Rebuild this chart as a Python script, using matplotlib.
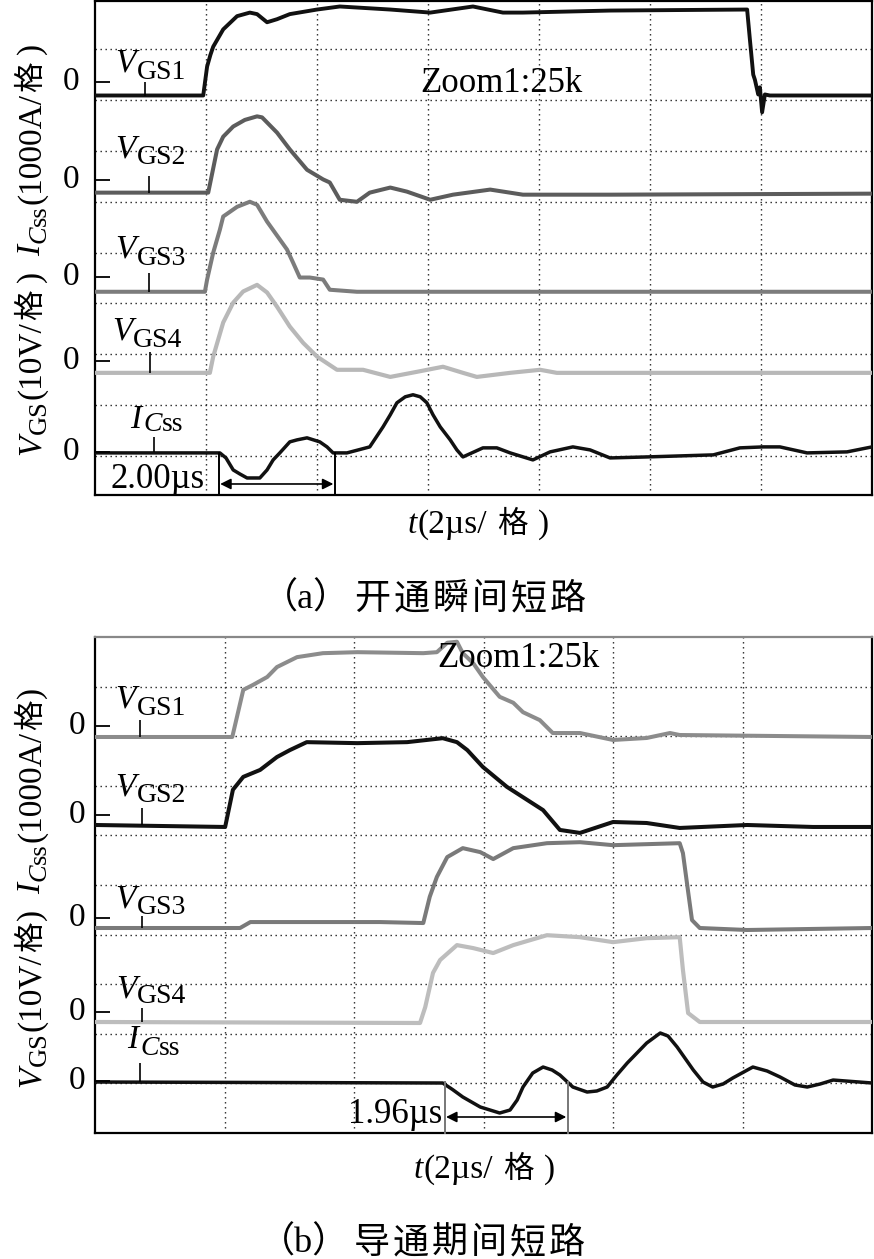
import matplotlib
matplotlib.use('Agg')
import matplotlib.pyplot as plt
from matplotlib.font_manager import FontProperties
from matplotlib.transforms import Affine2D
from matplotlib.lines import Line2D

W, H = 874, 1259
FAM = ['Liberation Serif', 'Noto Sans CJK SC']
plt.rcParams['font.family'] = FAM

# ---------------- data (time in µs, VGS in V, ICss in A) ----------------
# panel (a) turn-on short circuit
a_t_vgs1 = [0, 1.95, 2.02, 2.08, 2.13, 2.31, 2.56, 2.79, 2.92, 3.10, 3.28, 3.51, 4.00, 4.41, 5.32, 6.04,
            6.81, 7.35, 7.71, 9.28, 11.75, 11.80, 11.86, 11.89, 11.95, 11.98, 12.02, 12.07, 12.16, 14.0]
a_v_vgs1 = [0, 0, 5.7, 8.0, 9.6, 13.0, 15.6, 16.3, 16.0, 14.4, 15.0, 16.0, 16.9, 17.5, 16.9, 16.3,
            17.5, 16.3, 16.3, 16.7, 16.9, 11.0, 4.1, 3.1, 0.2, 1.6, -3.3, 0.2, 0, 0]
a_t_vgs2 = [0, 2.04, 2.20, 2.31, 2.49, 2.70, 2.92, 3.01, 3.28, 3.51, 3.82, 4.11, 4.23, 4.41, 4.72, 4.95,
            5.32, 5.62, 6.04, 6.45, 7.12, 7.71, 9.28, 14.0]
a_v_vgs2 = [0, 0, 8.5, 11.0, 13.0, 14.3, 15.0, 14.8, 11.8, 8.5, 4.5, 2.6, 2.0, -1.4, -1.8, 0,
            1.0, 0.2, -1.4, -0.4, 0.6, -0.4, -0.4, -0.2]
a_t_vgs3 = [0, 1.98, 2.02, 2.13, 2.25, 2.31, 2.56, 2.79, 2.92, 3.10, 3.46, 3.57, 3.69, 3.87, 4.11,
            4.23, 4.72, 14.0]
a_v_vgs3 = [0, 0, 2.4, 7.7, 12.2, 14.8, 16.7, 17.7, 17.1, 13.8, 8.3, 5.7, 2.8, 2.8, 2.4,
            0.4, 0, 0]
a_t_vgs4 = [0, 2.07, 2.13, 2.31, 2.49, 2.67, 2.92, 3.10, 3.28, 3.51, 3.75, 4.00, 4.36, 4.83, 5.32,
            5.80, 6.27, 6.63, 6.88, 7.48, 8.02, 8.32, 9.28, 14.0]
a_v_vgs4 = [0, 0, 3.2, 9.9, 13.8, 16.0, 17.3, 15.8, 13.0, 9.1, 5.9, 3.2, 0.6, 0.6, -0.8,
            0.2, 1.2, 0, -0.8, 0, 0.6, 0, 0, 0]
a_t_icss = [0, 2.25, 2.36, 2.49, 2.61, 2.74, 2.97, 3.10, 3.21, 3.33, 3.51, 3.64, 3.82, 4.05, 4.18,
            4.29, 4.54, 4.95, 5.19, 5.32, 5.44, 5.59, 5.73, 5.86, 5.98, 6.09, 6.22, 6.40, 6.52, 6.63,
            6.99, 7.24, 7.48, 7.89, 8.20, 8.61, 8.92, 9.28, 9.95, 11.14, 11.62, 12.04, 12.34, 12.83,
            13.55, 14.0]
a_i_icss = [0, 0, -99, -335, -414, -493, -493, -335, -138, 0, 217, 256, 296, 217, 118,
            0, 0, 118, 512, 749, 985, 1103, 1143, 1103, 985, 749, 512, 256, 59, -79,
            99, 99, 0, -138, 20, 118, 59, -99, -79, -39, 99, 118, 118, 0,
            20, 118]
a_meas = [2.23, 4.32]
a_meas_text = '2.00µs'

# panel (b) short circuit during conduction
b_t_vgs1 = [0, 2.12, 2.29, 2.44, 2.66, 2.81, 3.12, 3.52, 4.05, 5.07, 5.28, 5.44, 5.59, 5.68, 5.84,
            5.99, 6.25, 6.46, 6.61, 6.87, 7.07, 7.49, 8.00, 8.52, 8.88, 9.03, 12.0]
b_v_vgs1 = [0, 0, 9.5, 10.5, 12.1, 14.1, 16.1, 16.9, 17.1, 16.9, 17.1, 19.0, 19.2, 16.9, 14.9,
            12.1, 8.1, 6.9, 5.0, 3.4, 0.8, 0.8, -0.6, -0.2, 0.8, 0.4, 0]
b_t_vgs2 = [0, 2.01, 2.13, 2.29, 2.55, 2.81, 3.01, 3.27, 4.05, 4.82, 5.37, 5.59, 5.75, 5.99, 6.36,
            6.61, 6.92, 7.18, 7.49, 8.00, 8.52, 9.03, 10.07, 11.09, 12.0]
b_v_vgs2 = [0, -0.4, 7.1, 9.7, 11.1, 13.7, 15.1, 16.7, 16.5, 16.7, 17.5, 16.7, 15.1, 11.7, 7.7,
            5.6, 3.0, -1.0, -1.6, 0.6, 0.4, -0.6, 0, -0.4, -0.4]
b_t_vgs3 = [0, 2.24, 2.40, 4.40, 5.07, 5.17, 5.28, 5.44, 5.68, 5.95, 6.15, 6.46, 6.98, 7.49, 8.00,
            9.03, 9.08, 9.15, 9.22, 9.34, 10.07, 12.0]
b_v_vgs3 = [0, 0, 1.2, 1.2, 1.0, 6.3, 10.3, 14.3, 16.1, 15.3, 13.9, 16.1, 17.1, 17.3, 16.7,
            17.1, 15.1, 8.3, 1.6, 0, -0.4, 0]
b_t_vgs4 = [0, 5.02, 5.10, 5.22, 5.33, 5.59, 5.84, 6.15, 6.46, 6.98, 7.49, 8.00, 8.52, 9.03, 9.08,
            9.16, 9.34, 12.0]
b_v_vgs4 = [0, -0.2, 3.0, 9.9, 12.5, 15.5, 14.9, 13.9, 15.5, 17.5, 17.1, 16.1, 16.9, 17.1, 10.5,
            1.8, 0, 0]
b_t_icss = [0, 5.37, 5.52, 5.68, 5.95, 6.25, 6.41, 6.52, 6.61, 6.76, 6.92, 7.06, 7.18, 7.38, 7.60,
            7.75, 7.91, 8.06, 8.22, 8.52, 8.73, 8.85, 8.99, 9.24, 9.39, 9.54, 9.70, 9.85, 10.16,
            10.38, 10.58, 10.81, 11.00, 11.20, 11.40, 12.0]
b_i_icss = [0, -20, -150, -302, -504, -625, -565, -363, -101, 181, 302, 242, 141, -101, -202,
            -181, -101, 141, 383, 786, 988, 927, 706, 242, 0, -101, -40, 81, 302,
            222, 101, -60, -101, -40, 40, -20]
b_meas = [5.40, 7.30]
b_meas_text = '1.96µs'

V_PER_DIV = 10.0
A_PER_DIV = 1000.0
US_PER_DIV = 2.0

# ---------------- figure ----------------
fig = plt.figure(figsize=(W / 100, H / 100), dpi=100)
PX = Affine2D().scale(1, -1).translate(0, H)   # image pixel coords (top-down) -> display


def place_axes(l, t, r, b):
    return fig.add_axes([l / W, 1 - b / H, (r - l) / W, (b - t) / H])


def seg_width(s, size, style):
    r = fig.canvas.get_renderer()
    fp = FontProperties(family=FAM, size=size, style=style)
    return r.get_text_width_height_descent(s, fp, ismath=False)[0]


def rich(x, y, segs, rot=0):
    pos = 0.0
    for s, size, style, dy, gap in segs:
        fp = FontProperties(family=FAM, size=size, style=style)
        w = seg_width(s, size, style)
        if rot == 0:
            X, Y = x + pos, y + dy
        else:
            X, Y = x + dy, y - pos
        fig.text(X, Y, s, fontproperties=fp, transform=PX, ha='left', va='baseline',
                 rotation=rot, rotation_mode='anchor')
        pos += w + gap


def rich_centered(xc, y, segs):
    tot = sum(seg_width(s, size, st) + gap for s, size, st, dy, gap in segs) - segs[-1][4]
    rich(xc - tot / 2, y, segs)


def pline(xs, ys, color='k', lw=1.2):
    fig.add_artist(Line2D(xs, ys, transform=PX, color=color, lw=lw, solid_capstyle='butt'))


def style_axes(ax, xmax, ylo, yhi, top_color='k'):
    ax.set_xlim(0, xmax)
    ax.set_ylim(ylo, yhi)
    ax.set_xticks([US_PER_DIV * k for k in range(1, int(xmax / US_PER_DIV))])
    ax.set_yticks(range(1, 10))
    ax.grid(True, color='#222222', lw=1.0, ls=(0, (1.0, 2.6)))
    ax.tick_params(length=0, labelbottom=False, labelleft=False)
    for s in ax.spines.values():
        s.set_linewidth(1.6)
        s.set_color('k')
    ax.spines['top'].set_color(top_color)
    ax.set_axisbelow(True)


def to_div(vals, per_div, off):
    return [off + v / per_div for v in vals]


# ---- panel (a) ----
axa = place_axes(95, 1, 872, 495)
style_axes(axa, 14, 1 - 39 / 50.8, 9 + 48 / 50.8)
a_off = [8.087, 6.177, 4.228, 2.634, 1.06]
a_traces = [(a_t_vgs1, a_v_vgs1, V_PER_DIV, '#111111', 2.8),
            (a_t_vgs2, a_v_vgs2, V_PER_DIV, '#5c5c5c', 2.9),
            (a_t_vgs3, a_v_vgs3, V_PER_DIV, '#7c7c7c', 2.9),
            (a_t_vgs4, a_v_vgs4, V_PER_DIV, '#b8b8b8', 3.0),
            (a_t_icss, a_i_icss, A_PER_DIV, '#111111', 2.5)]
for (t, v, pd, c, lw), off in zip(a_traces, a_off):
    axa.plot(t, to_div(v, pd, off), color=c, lw=lw, solid_joinstyle='round', zorder=3)

# ---- panel (b) ----
axb = place_axes(95, 637, 872, 1133)
style_axes(axb, 12, 0, 10, top_color='#888888')
b_off = [7.984, 6.210, 4.133, 2.238, 1.028]
b_traces = [(b_t_vgs1, b_v_vgs1, V_PER_DIV, '#8c8c8c', 2.9),
            (b_t_vgs2, b_v_vgs2, V_PER_DIV, '#111111', 2.9),
            (b_t_vgs3, b_v_vgs3, V_PER_DIV, '#7a7a7a', 2.9),
            (b_t_vgs4, b_v_vgs4, V_PER_DIV, '#bdbdbd', 3.0),
            (b_t_icss, b_i_icss, A_PER_DIV, '#111111', 2.5)]
for (t, v, pd, c, lw), off in zip(b_traces, b_off):
    axb.plot(t, to_div(v, pd, off), color=c, lw=lw, solid_joinstyle='round', zorder=3)

fig.canvas.draw()

# ---- zero markers and "0" labels ----
for ys, xlab in (([82, 180, 277, 361, 452], 71), ([726, 815, 918, 1012, 1081], 77)):
    for y in ys:
        pline([95, 110], [y, y], lw=1.3)
        fig.text(xlab, y, '0', transform=PX, ha='center', va='center', fontsize=24,
                 family=FAM)


# ---- channel labels ----
def vlabel(x, yb, num, sub_dy=7):
    rich(x, yb, [('V', 24, 'italic', 0, 1), ('GS' + num, 20, 'normal', sub_dy, 0)])


def ilabel(x, yb, sub_dy=3):
    rich(x, yb, [('I', 24, 'italic', 0, 2), ('C', 20, 'italic', sub_dy, 0),
                 ('ss', 20, 'normal', sub_dy, 0)])


# panel (a)
vlabel(115, 72, '1')
vlabel(115, 157, '2')
vlabel(115, 258, '3')
vlabel(112, 340, '4')
ilabel(130, 428)
for x, y0, y1 in [(145, 82, 96), (149, 176, 193), (149, 273, 292), (150, 352, 373), (154, 437, 452)]:
    pline([x, x], [y0, y1], lw=1.2)

# panel (b)
vlabel(115, 708, '1')
vlabel(115, 795, '2')
vlabel(115, 907, '3')
vlabel(116, 998, '4', sub_dy=5)
ilabel(127, 1048, sub_dy=7)
for x, y0, y1 in [(140, 720, 737), (142, 808, 825), (142, 916, 928), (142, 1008, 1022), (140, 1063, 1082)]:
    pline([x, x], [y0, y1], lw=1.2)

# ---- Zoom text ----
fig.text(420, 92, 'Zoom1:25k', transform=PX, ha='left', va='baseline', fontsize=25, family=FAM)
fig.text(437, 667, 'Zoom1:25k', transform=PX, ha='left', va='baseline', fontsize=25, family=FAM)


# ---- measurement markers ----
def measure(ax, m, y_top, y_arrow, color, text, tx, ty, ha):
    for xm in m:
        ax.plot([xm, xm], [y_top, ax.get_ylim()[0]], color=color, lw=1.4, zorder=4, clip_on=False)
    ax.annotate('', xy=(m[1], y_arrow), xytext=(m[0], y_arrow),
                arrowprops=dict(arrowstyle='<|-|>', color='k', lw=1.2, mutation_scale=16,
                                shrinkA=1, shrinkB=1), zorder=5)
    fig.text(tx, ty, text, transform=PX, ha=ha, va='baseline', fontsize=25, family=FAM)


measure(axa, a_meas, a_off[4], 1 + (456 - 484) / 50.8, 'k', a_meas_text, 158, 488, 'center')
measure(axb, b_meas, b_off[4], (1133 - 1117) / 49.6, '#777777', b_meas_text, 442, 1123, 'right')


# ---- y labels (rotated) ----
def ylabel(x, ybot, gap_sp):
    rich(x, ybot, [('V', 24, 'italic', 0, 1), ('GS', 19, 'normal', 6, 1),
                   ('(10V/', 24, 'normal', 0, 1), ('格', 22, 'normal', 0, gap_sp),
                   (')', 24, 'normal', 0, 14),
                   ('I', 24, 'italic', 0, 2), ('C', 19, 'italic', 6, 0), ('ss', 19, 'normal', 6, 1),
                   ('(1000A/', 24, 'normal', 0, 1), ('格', 22, 'normal', 0, gap_sp),
                   (')', 24, 'normal', 0, 0)], rot=90)


ylabel(40, 455, 8)
ylabel(40, 1087, 2)

# ---- x labels ----
XSEGS = [('t', 24, 'italic', 0, 1), ('(2µs/', 24, 'normal', 0, 10), ('格', 22, 'normal', 0, 10),
         (')', 24, 'normal', 0, 0)]
rich_centered(478, 533, XSEGS)
rich_centered(484, 1178, XSEGS)


# ---- captions ----
def caption(xc, yb, tag, words):
    segs = [(tag, 26, 'normal', 0, 4)] + [(ch, 26, 'normal', 0, 3) for ch in words]
    rich_centered(xc, yb, segs)


caption(424, 609, '（a）', '开通瞬间短路')
caption(422, 1253, '（b）', '导通期间短路')

fig.savefig('out.png', dpi=100)
